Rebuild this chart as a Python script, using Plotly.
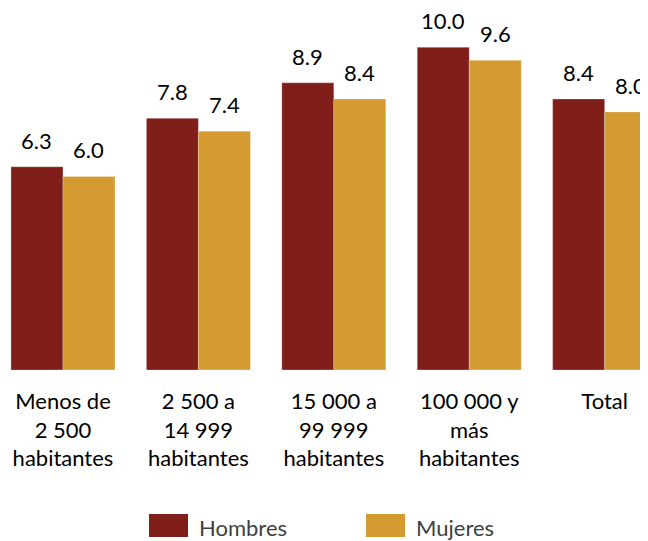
import plotly.graph_objects as go

categories = ["Menos de<br>2 500<br>habitantes", "2 500 a<br>14 999<br>habitantes",
              "15 000 a<br>99 999<br>habitantes", "100 000 y<br>más<br>habitantes", "Total"]
series_names = ["Hombres", "Mujeres"]
hombres = [6.3, 7.8, 8.9, 10.0, 8.4]
mujeres = [6.0, 7.4, 8.4, 9.6, 8.0]
colors = ["#801F1A", "#D39B31"]

font = "Lato, Calibri, sans-serif"
# the page has an 8px body margin, so the figure is drawn at (8, 8)
W, H = 640, 533
plot_h = 362             # plot area height (baseline of the bars)
bargap = 0.232

def py(fy):
    # figure pixel y -> paper y
    return (plot_h - fy) / plot_h

fig = go.Figure()
for name, vals, col in zip(series_names, [hombres, mujeres], colors):
    fig.add_trace(go.Bar(x=categories, y=vals, name=name,
                         marker=dict(color=col, line=dict(color="rgba(255,255,255,0.5)", width=0.5)),
                         showlegend=False))

# value labels above each bar
bw = (1 - bargap) / 2
for k, vals in enumerate([hombres, mujeres]):
    off = (k - 0.5) * bw
    for i, v in enumerate(vals):
        fig.add_annotation(x=i + off, y=v, xref="x", yref="y", text=f"{v:.1f}",
                           showarrow=False, yanchor="bottom", yshift=12, borderpad=0,
                           font=dict(size=22, color="#000000", family=font))

# legend with large swatches
leg_x = [141, 358]
for k, name in enumerate(series_names):
    x0 = leg_x[k]
    fig.add_shape(type="rect", xref="paper", yref="paper",
                  x0=x0 / W, x1=(x0 + 39) / W, y0=py(529), y1=py(506),
                  fillcolor=colors[k], line=dict(width=0))
    fig.add_annotation(x=(x0 + 48) / W, y=py(519), xref="paper", yref="paper",
                       text=name, showarrow=False, xanchor="left", yanchor="middle",
                       font=dict(size=22, color="#404040", family=font))

fig.update_layout(
    width=W, height=H,
    margin=dict(l=0, r=0, t=0, b=H - plot_h, autoexpand=False),
    paper_bgcolor="white", plot_bgcolor="white",
    barmode="group", bargap=bargap, bargroupgap=0,
    font=dict(family=font, size=22, color="#000000"),
    xaxis=dict(range=[-0.406, 4.32], showline=False, ticks="", showgrid=False,
               ticklabelstandoff=16, automargin=False,
               tickfont=dict(size=22, color="#000000")),
    yaxis=dict(range=[0, 11.22], visible=False),
    showlegend=False,
)

fig.write_html("out.html")
